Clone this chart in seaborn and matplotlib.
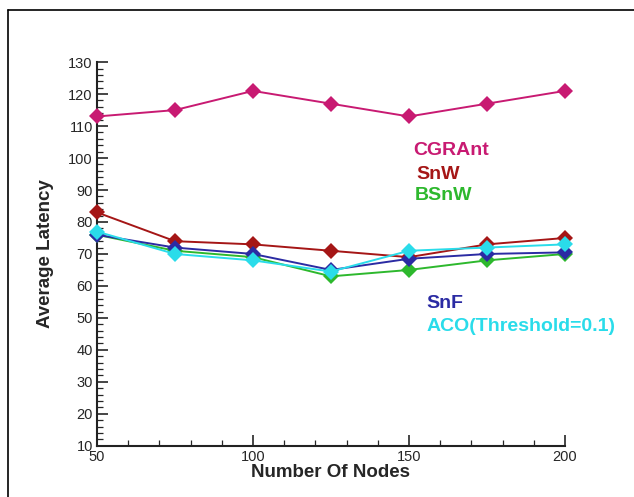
import pandas as pd
import matplotlib
matplotlib.use("Agg")
import matplotlib.pyplot as plt
import seaborn as sns
from matplotlib.ticker import MultipleLocator

# values
nodes = [50, 75, 100, 125, 150, 175, 200]
cgrant = [113, 115, 121, 117, 113, 117, 121]
snw = [83, 74, 73, 71, 69, 73, 75]
bsnw = [76, 71, 69, 63, 65, 68, 70]
snf = [76, 72, 70, 65, 68.5, 70, 70.5]
aco = [77, 70, 68, 64.5, 71, 72, 73]

series_names = ["CGRAnt", "SnW", "BSnW", "SnF", "ACO(Threshold=0.1)"]
series_values = [cgrant, snw, bsnw, snf, aco]
colors = ["#C81A72", "#A51616", "#2DB82D", "#2B2BA3", "#2ADCEA"]

rows = []
for name, vals in zip(series_names, series_values):
    for n, v in zip(nodes, vals):
        rows.append({"nodes": n, "latency": v, "series": name})
df = pd.DataFrame(rows)

sns.set_style("white")
plt.rcParams["font.family"] = ["Liberation Sans", "DejaVu Sans"]

fig = plt.figure(figsize=(6.34, 4.97), dpi=100)
ax = fig.add_axes([0.153, 0.103, 0.738, 0.772])

sns.lineplot(data=df, x="nodes", y="latency", hue="series", palette=colors,
             hue_order=series_names, marker="D", markersize=8, markeredgewidth=0,
             linewidth=1.4, legend=False, ax=ax)
# markers at the ends of the x range are drawn whole in the original
for line in ax.get_lines():
    line.set_clip_on(False)
    line.set_zorder(3)

ax.set_xlim(50, 200)
ax.set_ylim(10, 130)
ax.xaxis.set_major_locator(MultipleLocator(50))
ax.xaxis.set_minor_locator(MultipleLocator(10))
ax.yaxis.set_major_locator(MultipleLocator(10))
ax.yaxis.set_minor_locator(MultipleLocator(2))
ax.tick_params(which="major", direction="in", length=8, width=1.2, labelsize=10.5, pad=3)
ax.tick_params(which="minor", direction="in", length=4, width=0.9)
ax.tick_params(axis="x", which="both", bottom=True)
ax.tick_params(axis="y", which="both", left=True)
for side in ["top", "right"]:
    ax.spines[side].set_visible(False)
for side in ["left", "bottom"]:
    ax.spines[side].set_linewidth(1.5)
    ax.spines[side].set_color("#222222")

ax.set_xlabel("Number Of Nodes", fontsize=13.5, fontweight="bold", labelpad=0)
ax.set_ylabel("Average Latency", fontsize=13.5, fontweight="bold", labelpad=10)

# labels placed next to the lines as in the original
label_pos = [(151.5, 102.4), (152.5, 94.8), (152, 88.2), (155.5, 54.4), (155.5, 47.2)]
for name, c, (lx, ly) in zip(series_names, colors, label_pos):
    ax.text(lx, ly, name, color=c, fontsize=14, fontweight="bold",
            va="center", ha="left", clip_on=False)

# frame of the original screenshot
fig.add_artist(plt.Line2D([0.0126, 0.0126], [0, 0.98], color="black", lw=1.2))
fig.add_artist(plt.Line2D([0.0126, 1], [0.98, 0.98], color="black", lw=1.2))

fig.savefig("out.png", dpi=100)
